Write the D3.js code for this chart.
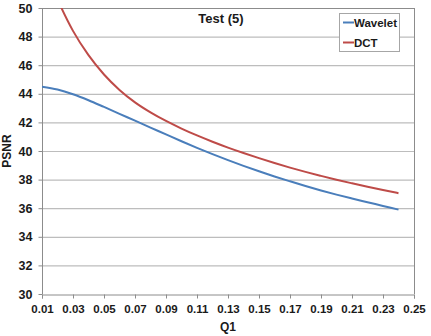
<!DOCTYPE html>
<html>
<head>
<meta charset="utf-8">
<script src="https://cdn.jsdelivr.net/npm/d3@7"></script>
<style>
  body { margin: 0; background: #fff; }
  svg text { font-family: "Liberation Sans", Arial, sans-serif; font-weight: bold; fill: #1a1a1a; }
</style>
</head>
<body>
<div id="chart"></div>
<script>
// Q1 values (x) and PSNR per method
const q1 = [0.01, 0.02, 0.03, 0.04, 0.05, 0.06, 0.07, 0.08, 0.09, 0.10, 0.11, 0.12,
  0.13, 0.14, 0.15, 0.16, 0.17, 0.18, 0.19, 0.20, 0.21, 0.22, 0.23, 0.24];
const wavelet = [44.5, 44.3, 43.97, 43.55, 43.08, 42.6, 42.12, 41.64, 41.16, 40.68, 40.22, 39.78,
  39.36, 38.96, 38.58, 38.22, 37.88, 37.55, 37.24, 36.95, 36.68, 36.42, 36.16, 35.9];
const dct = [53.2, 50.6, 48.4, 46.7, 45.35, 44.27, 43.4, 42.7, 42.1, 41.57, 41.09, 40.65,
  40.24, 39.86, 39.5, 39.16, 38.84, 38.54, 38.26, 37.99, 37.74, 37.5, 37.27, 37.05];
const xTicks = [0.01, 0.03, 0.05, 0.07, 0.09, 0.11, 0.13, 0.15, 0.17, 0.19, 0.21, 0.23, 0.25];
const yTicks = [30, 32, 34, 36, 38, 40, 42, 44, 46, 48, 50];
const seriesNames = ["Wavelet", "DCT"];
const seriesColors = ["#4a7ebb", "#be4b48"];

const width = 431;
const height = 336;
const margin = { top: 8, right: 17, bottom: 42, left: 42 };

const svg = d3.select("#chart")
  .append("svg")
  .attr("width", width)
  .attr("height", height);

const x = d3.scaleLinear()
  .domain([0.01, 0.25])
  .range([margin.left, width - margin.right]);

const y = d3.scaleLinear()
  .domain([30, 50])
  .range([height - margin.bottom, margin.top]);

// gridlines
svg.append("g")
  .selectAll("line")
  .data(yTicks.slice(1))
  .join("line")
  .attr("x1", x(0.01))
  .attr("x2", x(0.25))
  .attr("y1", (d) => y(d) + 0.5)
  .attr("y2", (d) => y(d) + 0.5)
  .attr("stroke", (d) => (d === 50 ? "#8c8c8c" : "#bdbdbd"))
  .attr("stroke-width", 1.2);

// right border
svg.append("line")
  .attr("x1", x(0.25) + 0.5).attr("x2", x(0.25) + 0.5)
  .attr("y1", y(50)).attr("y2", y(30))
  .attr("stroke", "#8c8c8c");

// axes
const xAxis = svg.append("g")
  .attr("transform", `translate(0, ${y(30) + 0.5})`)
  .call(d3.axisBottom(x).tickValues(xTicks).tickSize(4).tickPadding(6)
    .tickFormat(d3.format(".2f")));
const yAxis = svg.append("g")
  .attr("transform", `translate(${x(0.01) + 0.5}, 0)`)
  .call(d3.axisLeft(y).tickValues(yTicks).tickSize(4).tickPadding(6));

[xAxis, yAxis].forEach((g) => {
  g.select(".domain").attr("stroke", "#8c8c8c");
  g.selectAll(".tick line").attr("stroke", "#8c8c8c");
  g.selectAll("text").attr("font-size", 11.5).attr("fill", "#1a1a1a");
});
yAxis.select(".domain").attr("d", `M0,${y(50)}V${y(30)}`);
yAxis.selectAll("text").attr("font-size", 12.5);

// clip so the DCT curve stops at the top
svg.append("clipPath").attr("id", "plot-clip")
  .append("rect")
  .attr("x", x(0.01)).attr("y", y(50))
  .attr("width", x(0.25) - x(0.01)).attr("height", y(30) - y(50));

const line = d3.line()
  .x((d, i) => x(q1[i]))
  .y((d) => y(d))
  .curve(d3.curveMonotoneX);

svg.append("g")
  .attr("clip-path", "url(#plot-clip)")
  .selectAll("path")
  .data([wavelet, dct])
  .join("path")
  .attr("d", line)
  .attr("fill", "none")
  .attr("stroke", (d, i) => seriesColors[i])
  .attr("stroke-width", 2);

// title
svg.append("text")
  .attr("x", 221).attr("y", 23)
  .attr("text-anchor", "middle")
  .attr("font-size", 13)
  .text("Test (5)");

// axis labels
svg.append("text")
  .attr("x", x(0.13)).attr("y", 331)
  .attr("text-anchor", "middle")
  .attr("font-size", 12)
  .text("Q1");

svg.append("text")
  .attr("transform", `translate(11, ${(y(30) + y(50)) / 2}) rotate(-90)`)
  .attr("text-anchor", "middle")
  .attr("font-size", 12)
  .text("PSNR");

// legend
const legend = svg.append("g").attr("transform", "translate(339, 13)");
legend.append("rect")
  .attr("x", 0.5).attr("y", 0.5)
  .attr("width", 60).attr("height", 38)
  .attr("fill", "#fff")
  .attr("stroke", "#a6a6a6");
const item = legend.selectAll("g.item")
  .data(seriesNames)
  .join("g")
  .attr("class", "item")
  .attr("transform", (d, i) => `translate(0, ${9.5 + i * 20})`);
item.append("line")
  .attr("x1", 4).attr("x2", 15)
  .attr("stroke", (d, i) => seriesColors[i])
  .attr("stroke-width", 2);
item.append("text")
  .attr("x", 15).attr("y", 4.5)
  .attr("font-size", 11.5)
  .text((d) => d);
</script>
</body>
</html>
